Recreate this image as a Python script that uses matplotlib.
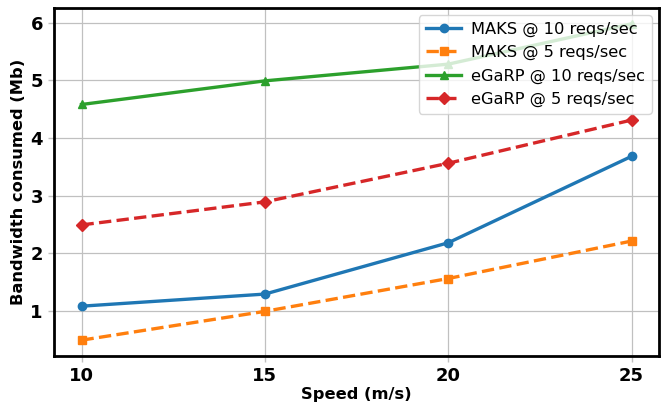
import matplotlib
matplotlib.use("Agg")
import matplotlib.pyplot as plt

speeds = [10, 15, 20, 25]
maks_10 = [1.08, 1.29, 2.18, 3.68]
maks_5 = [0.49, 0.99, 1.56, 2.21]
egarp_10 = [4.58, 4.99, 5.28, 5.98]
egarp_5 = [2.49, 2.89, 3.56, 4.31]
labels = ["MAKS @ 10 reqs/sec", "MAKS @ 5 reqs/sec", "eGaRP @ 10 reqs/sec", "eGaRP @ 5 reqs/sec"]

fig = plt.figure(figsize=(6.7, 4.04), dpi=100)
ax = fig.add_axes([54/670, 1-356/404, (659-54)/670, (356-8)/404])
lw = 2.4
ax.plot(speeds, maks_10, '-o', color='#1f77b4', lw=lw, ms=6, label=labels[0])
ax.plot(speeds, maks_5, '--s', color='#ff7f0e', lw=lw, ms=6, label=labels[1])
ax.plot(speeds, egarp_10, '-^', color='#2ca02c', lw=lw, ms=6, label=labels[2])
ax.plot(speeds, egarp_5, '--D', color='#d62728', lw=lw, ms=6, label=labels[3])

ax.set_xticks(speeds)
ax.grid(True, color='#c0c0c0', lw=0.9)
ax.set_axisbelow(True)
ax.tick_params(length=4, width=1, color='#c0c0c0', pad=4, labelsize=13)
for t in ax.get_xticklabels() + ax.get_yticklabels():
    t.set_fontweight('bold')
for s in ax.spines.values():
    s.set_linewidth(2)
    s.set_color('black')
ax.set_xlabel("Speed (m/s)", fontsize=11.7, fontweight='bold', labelpad=1)
ax.set_ylabel("Bandwidth consumed (Mb)", fontsize=11.7, fontweight='bold', labelpad=3)
ax.legend(loc='upper right', fontsize=11.7, borderaxespad=0.45, handlelength=2.2,
          handletextpad=0.6, labelspacing=0.5)
fig.savefig("out.png", dpi=100)
